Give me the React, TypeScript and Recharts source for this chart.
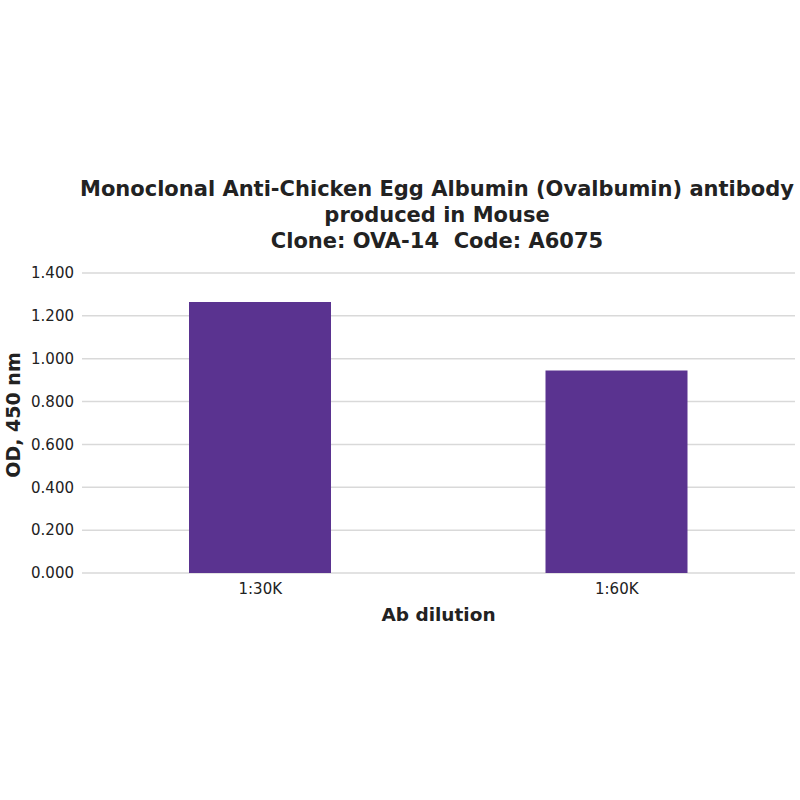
import React from "react";
import { BarChart, Bar, CartesianGrid, XAxis, YAxis, Label } from "recharts";

const dilutions = ["1:30K", "1:60K"];
const odValues = [1.265, 0.945];
const yTicks = [0, 0.2, 0.4, 0.6, 0.8, 1.0, 1.2, 1.4];
const titleLines = [
  "Monoclonal Anti-Chicken Egg Albumin (Ovalbumin) antibody",
  "produced in Mouse",
  "Clone: OVA-14  Code: A6075",
];

const data = dilutions.map((d, i) => ({ name: d, od: odValues[i] }));

const font = "'DejaVu Sans', Verdana, sans-serif";
const tickStyle = { fontSize: 15, fill: "#222", fontFamily: font };

export default function App() {
  return (
    <div style={{ position: "absolute", left: 0, top: 0, width: 800, height: 800, background: "#fff" }}>
      <div
        style={{
          position: "absolute",
          left: 40,
          width: 794,
          top: 176,
          textAlign: "center",
          fontFamily: font,
          fontWeight: "bold",
          fontSize: 21,
          lineHeight: "26px",
          color: "#222",
          whiteSpace: "pre",
        }}
      >
        {titleLines.map((t, i) => (
          <div key={i}>{t}</div>
        ))}
      </div>
      <BarChart
        width={800}
        height={800}
        data={data}
        margin={{ top: 273, right: 5, bottom: 167, left: 0 }}
        barCategoryGap="30%"
      >
        <CartesianGrid vertical={false} stroke="#d9d9d9" strokeWidth={1.5} />
        <XAxis
          dataKey="name"
          height={60}
          tickLine={false}
          axisLine={false}
          tick={tickStyle}
          tickMargin={4}
        >
          <Label
            value="Ab dilution"
            position="insideBottom"
            offset={12}
            style={{ fontSize: 18.5, fontWeight: "bold", fill: "#222", fontFamily: font }}
          />
        </XAxis>
        <YAxis
          width={82}
          domain={[0, 1.4]}
          ticks={yTicks}
          tickFormatter={(v: number) => v.toFixed(3)}
          tickLine={false}
          axisLine={false}
          tick={tickStyle}
          tickMargin={2}
        >
          <Label
            content={(props: any) => {
              const vb = props.viewBox || {};
              const cx = 13;
              const cy = (vb.y ?? 273) + (vb.height ?? 300) / 2 - 8;
              return (
                <text
                  x={cx}
                  y={cy}
                  transform={`rotate(-90 ${cx} ${cy})`}
                  textAnchor="middle"
                  dominantBaseline="central"
                  style={{ fontSize: 19, fontWeight: "bold", fill: "#222", fontFamily: font }}
                >
                  OD, 450 nm
                </text>
              );
            }}
          />
        </YAxis>
        <Bar dataKey="od" fill="#5a3390" barSize={142} isAnimationActive={false} />
      </BarChart>
    </div>
  );
}
